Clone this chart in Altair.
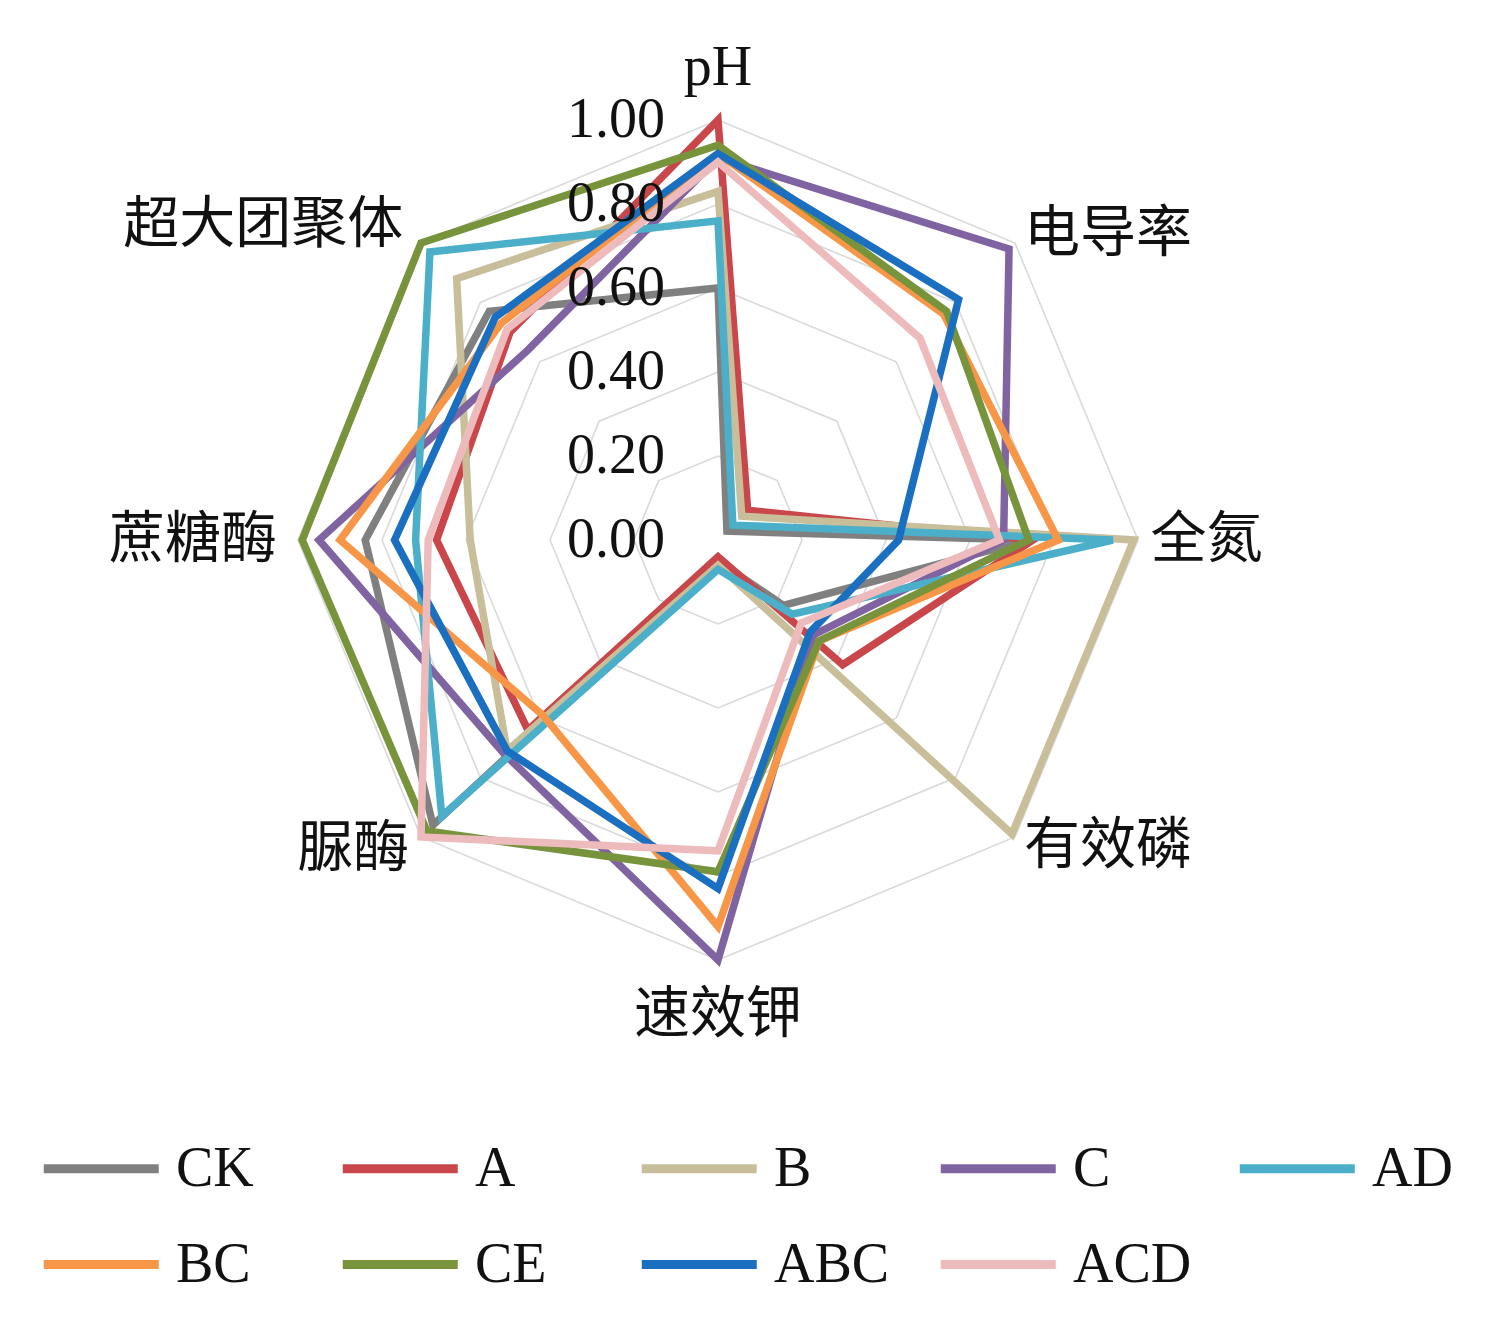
import altair as alt
import pandas as pd

# ---------------- data ----------------
axis_labels = ["pH", "电导率", "全氮", "有效磷", "速效钾", "脲酶", "蔗糖酶", "超大团聚体"]
series_names = ["CK", "A", "B", "C", "AD", "BC", "CE", "ABC", "ACD"]
series_colors = ["#808080", "#c9474a", "#c8bf9a", "#8064a2", "#4bafc9",
                 "#f79646", "#77933c", "#1b6fc0", "#eebbbd"]

CK = [0.60, 0.03, 0.74, 0.22, 0.05, 0.96, 0.84, 0.77]
A = [1.00, 0.10, 0.75, 0.42, 0.04, 0.64, 0.67, 0.70]
B = [0.83, 0.08, 0.99, 0.99, 0.06, 0.71, 0.59, 0.88]
C = [0.91, 0.98, 0.68, 0.32, 1.00, 0.72, 0.95, 0.64]
AD = [0.76, 0.05, 0.94, 0.25, 0.07, 0.93, 0.72, 0.97]
BC = [0.92, 0.76, 0.81, 0.34, 0.92, 0.59, 0.90, 0.73]
CE = [0.94, 0.77, 0.74, 0.34, 0.79, 0.98, 0.99, 1.00]
ABC = [0.92, 0.81, 0.43, 0.31, 0.83, 0.71, 0.77, 0.75]
ACD = [0.90, 0.68, 0.67, 0.28, 0.74, 1.00, 0.69, 0.71]
series_values = [CK, A, B, C, AD, BC, CE, ABC, ACD]

tick_values = [0.0, 0.2, 0.4, 0.6, 0.8, 1.0]
tick_labels = ["0.00", "0.20", "0.40", "0.60", "0.80", "1.00"]

# ---------------- layout ----------------
FONT = "Liberation Serif, Noto Sans CJK SC"
FS = 56
W, H = 1494, 1290
UNIT = 420.0
XMIN = -(718 - 8) / UNIT
XMAX = XMIN + W / UNIT
YMAX = (540 - 8) / UNIT
YMIN = YMAX - H / UNIT

label_radius = [1.124, 1.03, 1.03, 1.03, 1.131, 1.04, 1.05, 1.06]
label_align = ["center", "left", "left", "left", "center", "right", "right", "right"]

rows = []
for s_i, (name, vals) in enumerate(zip(series_names, series_values)):
    for k, v in enumerate(vals):
        rows.append({"series": name, "k": k, "value": v, "s": s_i})
df = pd.DataFrame(rows)

grid = pd.DataFrame([{"level": lv, "k": k, "value": lv}
                     for lv in tick_values[1:] for k in range(8)])
labels_df = pd.DataFrame({"label": axis_labels, "k": list(range(8)),
                          "value": label_radius, "align": label_align})
ticks_df = pd.DataFrame({"tick": tick_labels, "value": tick_values})

xs = alt.Scale(domain=[XMIN, XMAX], nice=False, zero=False)
ys = alt.Scale(domain=[YMIN, YMAX], nice=False, zero=False)

polar = dict(px="datum.value * sin(datum.k * PI / 4)",
             py="datum.value * cos(datum.k * PI / 4)")

grid_layer = alt.Chart(grid).transform_calculate(**polar).mark_line(
    interpolate="linear-closed", stroke="#d9d9d9", strokeWidth=1.6
).encode(
    x=alt.X("px:Q", scale=xs, axis=None),
    y=alt.Y("py:Q", scale=ys, axis=None),
    detail="level:N",
    order="k:Q",
)

series_layer = alt.Chart(df).transform_calculate(**polar).mark_line(
    interpolate="linear-closed", strokeWidth=7.5, strokeJoin="miter"
).encode(
    x=alt.X("px:Q", scale=xs, axis=None),
    y=alt.Y("py:Q", scale=ys, axis=None),
    order="k:Q",
    color=alt.Color(
        "series:N",
        scale=alt.Scale(domain=series_names, range=series_colors),
        sort=series_names,
        legend=alt.Legend(
            title=None, orient="none", legendX=31, legendY=1127,
            direction="horizontal",
            columns=5, gridAlign="all", columnPadding=29, rowPadding=34,
            symbolType="M-1,0H3", symbolSize=3306, symbolStrokeWidth=9,
            labelFont=FONT, labelFontSize=FS, labelColor="#111111",
            labelOffset=70, padding=0,
        ),
    ),
)

def label_layer(align):
    return alt.Chart(labels_df).transform_filter(
        alt.datum.align == align
    ).transform_calculate(**polar).mark_text(
        align=align, baseline="middle", font=FONT, fontSize=FS, color="#111111"
    ).encode(
        x=alt.X("px:Q", scale=xs, axis=None),
        y=alt.Y("py:Q", scale=ys, axis=None),
        text="label:N",
    )

tick_layer = alt.Chart(ticks_df).mark_text(
    align="right", baseline="middle", dx=-53, font=FONT, fontSize=FS, color="#111111"
).encode(
    x=alt.datum(0, scale=xs),
    y=alt.Y("value:Q", scale=ys, axis=None),
    text="tick:N",
)

chart = alt.layer(
    grid_layer, series_layer,
    label_layer("center"), label_layer("left"), label_layer("right"),
    tick_layer,
).properties(width=W, height=H, padding=0).configure_view(stroke=None)

chart.save("out.html", embed_options={"renderer": "svg", "actions": False})
